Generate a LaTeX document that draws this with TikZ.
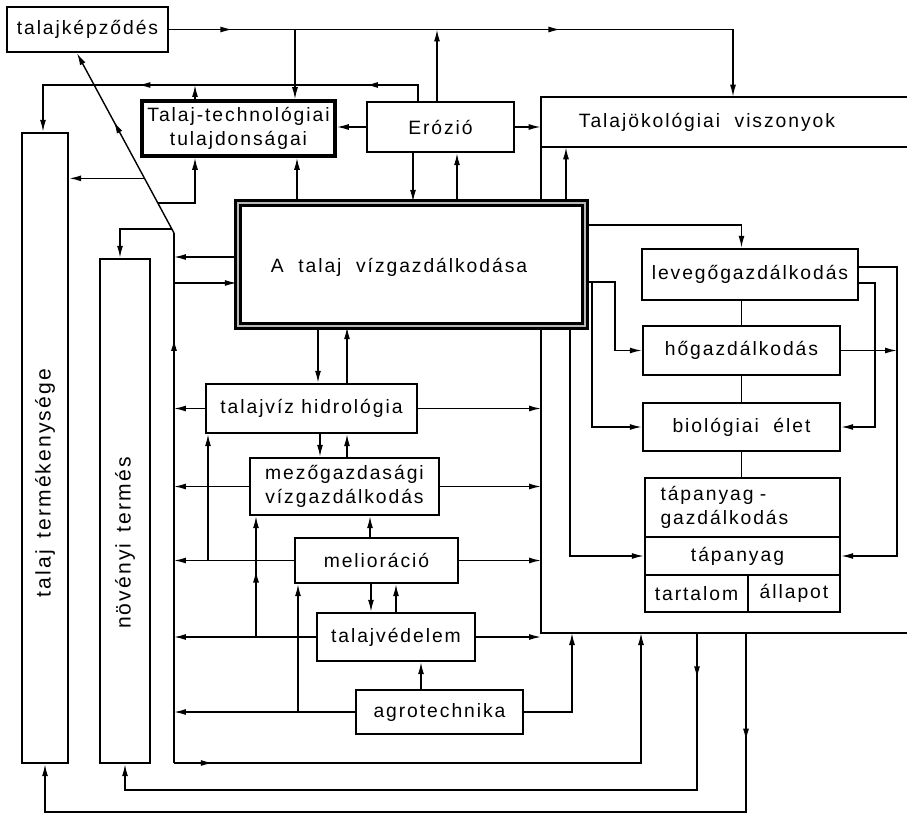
\documentclass[tikz,border=0pt]{standalone}
\usepackage{fontspec}
\setmainfont{Liberation Sans}[LetterSpace=10]
\usetikzlibrary{arrows.meta,positioning,calc,fit,decorations.markings}
\tikzset{
  txt/.style={inner sep=0pt, align=center, font=\fontsize{11}{14}\selectfont},
  box/.style={draw=black, line width=1.4pt, fill=white, inner sep=0pt},
  thickbox/.style={box, line width=2pt},
  mainbox/.style={box, line width=1.4pt, double=gray!55, double distance=1.3pt},
  vtext/.style={rotate=90, inner sep=0pt, font=\fontsize{12}{14}\selectfont},
  frame/.style={line width=1.4pt},
  wire/.style={line width=0.8pt},
  arr/.style={wire, -{Latex[length=2.4mm,width=1.2mm]}},
  mid/.style={postaction={decorate, decoration={markings, mark=at position #1 with {\arrow{Latex[length=2.4mm,width=1.2mm]}}}}}
}

\begin{document}
\begin{tikzpicture}[x=0.02cm, y=-0.02cm]
  \useasboundingbox (0,0) rectangle (907,818);

  % talajokologiai keret
  \node[fit={(541,97)(873,147)}, inner sep=0pt, label={[txt]center:Talajökológiai\ \ viszonyok}] (okol) {};
  \draw[frame] (907,97) -- (541,97) -- (541,633) -- (907,633);
  \draw[frame] (541,147) -- (907,147);
  \coordinate (fl) at (541,0);
  \coordinate (fb) at (0,633);

  % dobozok
  \node[box, fit={(7,7)(168,52)}, label={[txt]center:talajképződés}] (kepz) {};
  \node[thickbox, fit={(142,101)(335,156)}, label={[txt]center:Talaj-technológiai\\tulajdonságai}] (tech) {};
  \node[box, fit={(367,102)(514,152)}, label={[txt]center:Erózió}] (eroz) {};
  \node[mainbox, fit={(238,203)(585,326)}, label={[txt, xshift=-0.25cm, yshift=-0.05cm]center:A\ \ talaj\ \ vízgazdálkodása}] (main) {};
  \node[box, fit={(22,133)(68,763)}] (term) {};
  \node[vtext] (termtxt) at (45,483) {talaj\, termékenysége};
  \node[box, fit={(100,259)(150,763)}] (noveny) {};
  \node[vtext] (novtxt) at (125,543) {növényi\, termés};

  \node[box, fit={(642,249)(858,300)}, label={[txt]center:levegőgazdálkodás}] (lev) {};
  \node[box, fit={(643,326)(840,375)}, label={[txt]center:hőgazdálkodás}] (ho) {};
  \node[box, fit={(643,403)(840,451)}, label={[txt]center:biológiai\ \ élet}] (bio) {};
  \node[box, fit={(645,478)(840,537)}, label={[txt, text width=3.28cm, align=left]center:tápanyag -\\gazdálkodás}] (tapgaz) {};
  \node[box, fit={(645,537)(840,575)}, label={[txt, xshift=-0.1cm]center:tápanyag}] (taptap) {};
  \node[box, fit={(645,575)(748,612)}, label={[txt]center:tartalom}] (tart) {};
  \node[box, fit={(748,575)(840,612)}, label={[txt]center:állapot}] (allap) {};

  \node[box, fit={(206,384)(417,433)}, label={[txt]center:talajvíz hidrológia}] (tvh) {};
  \node[box, fit={(250,458)(439,515)}, label={[txt]center:mezőgazdasági\\vízgazdálkodás}] (mvg) {};
  \node[box, fit={(295,538)(458,583)}, label={[txt]center:melioráció}] (mel) {};
  \node[box, fit={(317,613)(475,661)}, label={[txt]center:talajvédelem}] (tvd) {};
  \node[box, fit={(356,690)(523,734)}, label={[txt]center:agrotechnika}] (agro) {};

  % gyujtovonal balra
  \coordinate (bus) at (174,0);
  \coordinate (busbot) at (174,763);
  \coordinate (bustop) at (174,233);
  \coordinate (kdiag) at (77,0 |- kepz.south);
  \coordinate (d1) at ($(bustop)!0.166!(kdiag)$);
  \coordinate (d2) at ($(bustop)!0.304!(kdiag)$);
  \coordinate (d3) at ($(bustop)!0.022!(kdiag)$);

  % felso resz
  \draw[arr, mid=0.1, mid=0.62] (kepz.east) -- (733,0 |- kepz.east) -- (733,0 |- okol.north);
  \draw[arr] (295,0 |- kepz.east) -- (295,0 |- tech.north);
  \draw[arr] (437,0 |- eroz.north) -- (437,0 |- kepz.east);
  \draw[arr, mid=0.155, mid=0.675] (418,0 |- eroz.north) -- (418,85) -- (43,85) -- (43,0 |- term.north);
  \draw[arr] (195,0 |- tech.north) -- (195,85);
  \draw[arr] (eroz.west) -- (eroz.west -| tech.east);
  \draw[arr] (eroz.east) -- (eroz.east -| okol.west);
  \draw[arr] (413,0 |- eroz.south) -- (413,0 |- main.north);
  \draw[arr] (457,0 |- main.north) -- (457,0 |- eroz.south);
  \draw[arr] (297,0 |- main.north) -- (297,0 |- tech.south);
  \draw[arr] (566,0 |- main.north) -- (566,0 |- okol.south);

  % gyujtovonal
  \draw[wire, mid=0.8] (busbot) -- (bustop);
  \draw[arr, mid=0.62] (bustop) -- (kdiag);
  \draw[arr, mid=0.065] (busbot) -- (641,0 |- busbot) -- (641,0 |- fb);
  \draw[arr] (d1) -- (195,0 |- d1) -- (195,0 |- tech.south);
  \draw[arr] (d2) -- (d2 -| term.east);
  \draw[arr] (d3) -- (120,0 |- d3) -- (120,0 |- noveny.north);
  \draw[arr] (main.west |- 0,257) -- (bus |- 0,257);
  \draw[arr] (bus |- 0,283) -- (main.west |- 0,283);
  \draw[arr] (tvh.west) -- (tvh.west -| bus);
  \draw[arr] (mvg.west) -- (mvg.west -| bus);
  \draw[arr] (mel.west) -- (mel.west -| bus);
  \draw[arr] (tvd.west) -- (tvd.west -| bus);
  \draw[arr] (agro.west) -- (agro.west -| bus);
  \draw[arr] (208,0 |- mel.west) -- (208,0 |- tvh.south);
  \draw[arr, mid=0.55] (256,0 |- tvd.west) -- (256,0 |- mvg.south);
  \draw[arr] (298,0 |- agro.west) -- (298,0 |- mel.south);

  % kozepso oszlop
  \draw[arr] (318,0 |- main.south) -- (318,0 |- tvh.north);
  \draw[arr] (347,0 |- tvh.north) -- (347,0 |- main.south);
  \draw[arr] (320,0 |- tvh.south) -- (320,0 |- mvg.north);
  \draw[arr] (347,0 |- mvg.north) -- (347,0 |- tvh.south);
  \draw[arr] (370,0 |- mel.north) -- (370,0 |- mvg.south);
  \draw[arr] (371,0 |- mel.south) -- (371,0 |- tvd.north);
  \draw[arr] (396,0 |- tvd.north) -- (396,0 |- mel.south);
  \draw[arr] (421,0 |- agro.north) -- (421,0 |- tvd.south);

  % jobbra a keretbe
  \draw[arr] (tvh.east) -- (tvh.east -| fl);
  \draw[arr] (mvg.east) -- (mvg.east -| fl);
  \draw[arr] (mel.east) -- (mel.east -| fl);
  \draw[arr] (tvd.east) -- (tvd.east -| fl);
  \draw[arr] (agro.east) -- (572,0 |- agro.east) -- (572,0 |- fb);

  % jobb oldal
  \draw[arr] (main.east |- 0,225) -- (ho.north |- 0,225) -- (ho.north |- lev.north);
  \draw[arr] (main.east |- 0,282) -- (615,282) -- (615,0 |- ho.west) -- (ho.west);
  \draw[arr] (592,282) -- (592,0 |- bio.west) -- (bio.west);
  \draw[arr] (570,0 |- main.south) -- (570,0 |- taptap.west) -- (taptap.west);
  \draw[arr] (lev.east |- 0,267) -- (897,267) -- (897,0 |- taptap.east) -- (taptap.east);
  \draw[arr] (lev.east |- 0,283) -- (875,283) -- (875,0 |- bio.east) -- (bio.east);
  \draw[arr] (ho.east) -- (897,0 |- ho.east);
  \draw[wire] (ho.north |- lev.south) -- (ho.north);
  \draw[wire] (ho.south) -- (ho.south |- bio.north);
  \draw[wire] (ho.south |- bio.south) -- (ho.south |- tapgaz.north);

  % vissza a termeshez
  \draw[arr, mid=0.06] (697,0 |- fb) -- (697,790) -- (noveny.south |- 0,790) -- (noveny.south);
  \draw[arr, mid=0.116] (746,0 |- fb) -- (746,812) -- (term.south |- 0,812) -- (term.south);
\end{tikzpicture}
\end{document}
